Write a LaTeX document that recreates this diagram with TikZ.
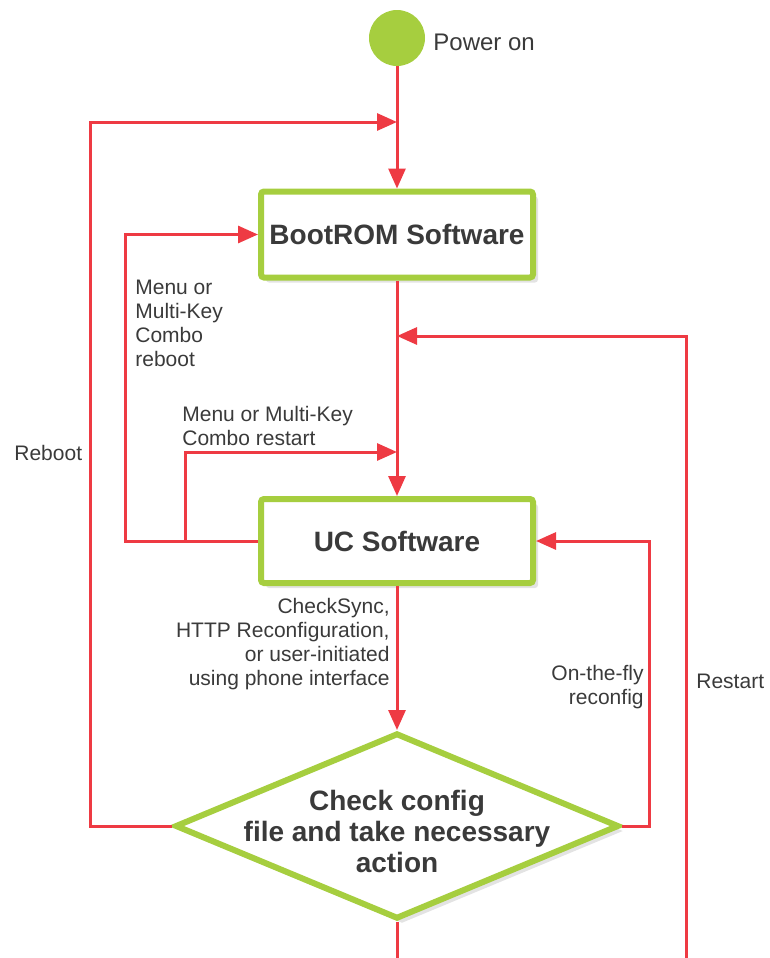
\documentclass[tikz,border=0pt]{standalone}
\usepackage{fontspec}
\setmainfont{Liberation Sans}
\usepackage{xcolor}
\usetikzlibrary{arrows.meta,shapes.geometric,shadows}

\definecolor{flowred}{HTML}{EE3A43}
\definecolor{boxgreen}{HTML}{A6CE3F}
\definecolor{inkgray}{HTML}{3A3A3A}

\begin{document}
\begin{tikzpicture}[x=0.5pt,y=-0.5pt,
    flow/.style={draw=flowred, line width=1.5pt, -{Triangle[length=10pt,width=8.5pt]}},
    wire/.style={draw=flowred, line width=1.5pt},
    swbox/.style={draw=boxgreen, line width=3pt, fill=white, rounded corners=1.5pt,
        minimum width=136pt, inner sep=0pt, text=inkgray,
        font=\fontsize{14}{15.5}\selectfont\bfseries,
        drop shadow={opacity=0.22, shadow xshift=2.5pt, shadow yshift=-2.5pt}},
    note/.style={text=inkgray, inner sep=0pt, font=\fontsize{10.5}{12}\selectfont}]
    \useasboundingbox (0,0) rectangle (770,958);

    % states
    \node[circle, fill=boxgreen, minimum size=28pt, inner sep=0pt] (poweron) at (397,38) {};
    \node[note, anchor=west, font=\fontsize{12}{14}\selectfont] (powerlbl) at (433,42) {Power on};
    \node[swbox, minimum height=43pt] (bootrom) at (397,234.5) {BootROM Software};
    \node[swbox, minimum height=42pt] (uc) at (397,541) {UC Software};
    \node[diamond, draw=boxgreen, line width=3pt, fill=white, inner sep=0pt,
        minimum width=222pt, minimum height=93pt,
        drop shadow={opacity=0.22, shadow xshift=2.5pt, shadow yshift=-2.5pt}] (check) at (397,826) {};
    \node[text=inkgray, align=center, font=\fontsize{14}{15.5}\selectfont\bfseries] (checktxt) at (397,831)
        {Check config\\file and take necessary\\action};

    % junctions on the main line
    \coordinate (rebootin) at (397,122);
    \coordinate (restartin) at (397,336);
    \coordinate (comboin) at (397,452);
    \coordinate (comboknot) at (185,541);
    \coordinate (mainend) at (397,958);
    \coordinate (restartend) at (686,958);

    % main flow
    \draw[flow] (poweron) -- (bootrom);
    \draw[flow] (bootrom) -- (uc);
    \draw[flow] (uc) -- (check);
    \draw[wire] (check) -- (mainend);

    % loops
    \draw[flow] (check.west) -- ++(-82,0) |- (rebootin);
    \draw[flow] (uc.west) -- ++(-133,0) |- (bootrom.west);
    \draw[flow] (comboknot) |- (comboin);
    \draw[flow] (check.east) -- ++(27,0) |- (uc.east);
    \draw[flow] (restartend) |- (restartin);

    % labels
    \node[note, anchor=west] (rebootlbl) at (14,453) {Reboot};
    \node[note, anchor=north west, align=left] (combolbl) at (135,280) {Menu or\\Multi-Key\\Combo\\reboot};
    \node[note, anchor=south west, align=left] (restartlbl) at (182,446) {Menu or Multi-Key\\Combo restart};
    \node[note, anchor=south east, align=right] (synclbl) at (390,690)
        {CheckSync,\\HTTP Reconfiguration,\\or user-initiated\\using phone interface};
    \node[note, anchor=south east, align=right] (flylbl) at (644,709) {On-the-fly\\reconfig};
    \node[note, anchor=west] (restartlbl2) at (696,681) {Restart};
\end{tikzpicture}
\end{document}
